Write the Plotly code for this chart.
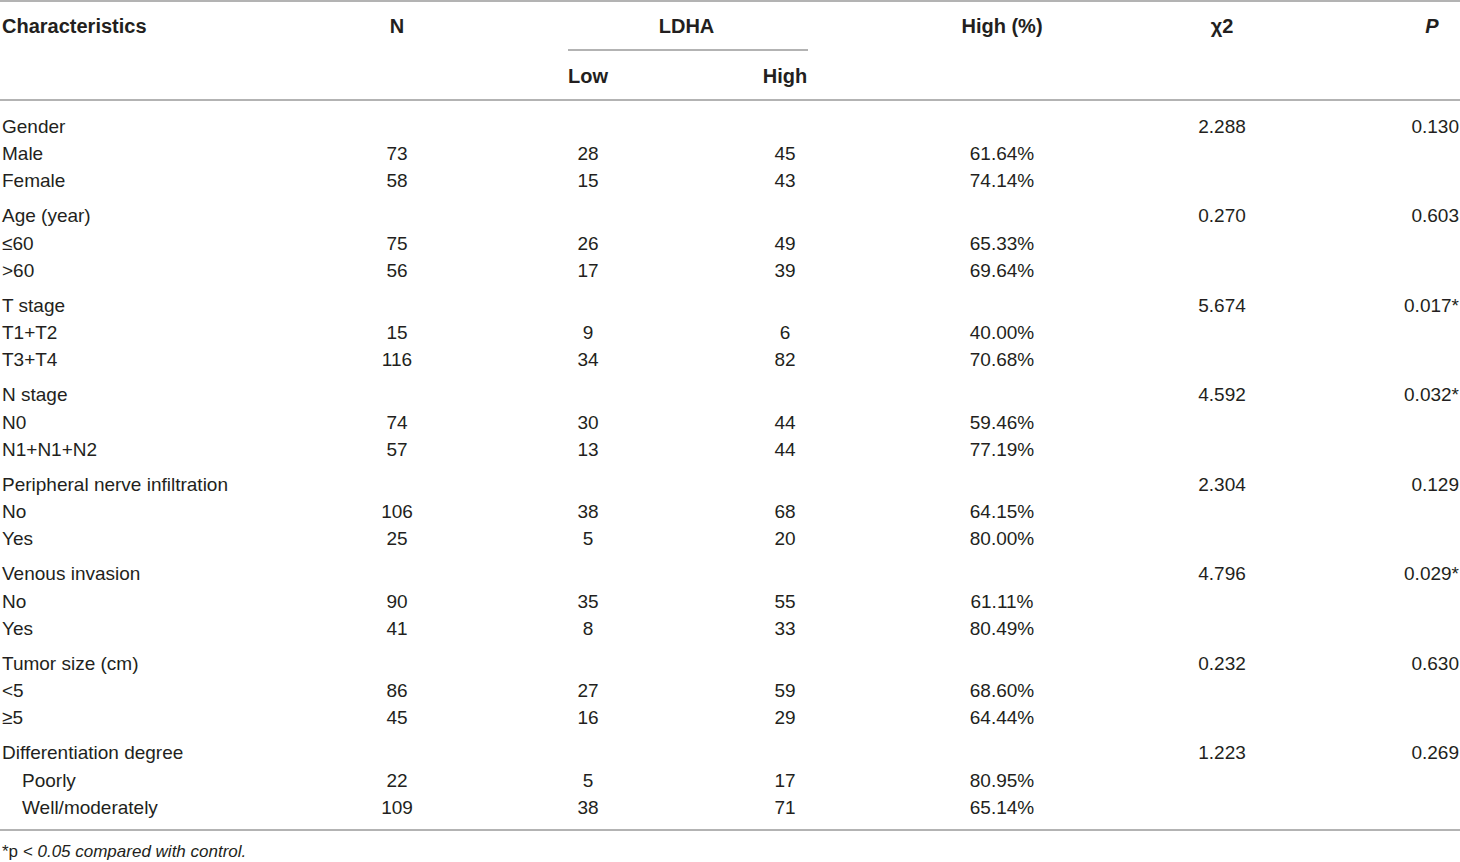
import plotly.graph_objects as go

# ---- table data ----
groups = ["Gender", "Age (year)", "T stage", "N stage",
          "Peripheral nerve infiltration", "Venous invasion",
          "Tumor size (cm)", "Differentiation degree"]
subgroups = [["Male", "Female"], ["≤60", ">60"], ["T1+T2", "T3+T4"],
             ["N0", "N1+N1+N2"], ["No", "Yes"], ["No", "Yes"],
             ["<5", "≥5"], ["Poorly", "Well/moderately"]]
n_vals = [73, 58, 75, 56, 15, 116, 74, 57, 106, 25, 90, 41, 86, 45, 22, 109]
low_vals = [28, 15, 26, 17, 9, 34, 30, 13, 38, 5, 35, 8, 27, 16, 5, 38]
high_vals = [45, 43, 49, 39, 6, 82, 44, 44, 68, 20, 55, 33, 59, 29, 17, 71]
high_pct = ["61.64%", "74.14%", "65.33%", "69.64%", "40.00%", "70.68%",
            "59.46%", "77.19%", "64.15%", "80.00%", "61.11%", "80.49%",
            "68.60%", "64.44%", "80.95%", "65.14%"]
chi2_vals = ["2.288", "0.270", "5.674", "4.592", "2.304", "4.796", "0.232", "1.223"]
p_vals = ["0.130", "0.603", "0.017*", "0.032*", "0.129", "0.029*", "0.630", "0.269"]
indented = ["Differentiation degree"]
footnote = "*p <i>&lt; 0.05 compared with control.</i>"

W, H = 1460, 862
TXT = "#231f20"
LINE = "#9a9a9a"
FONT = "Liberation Sans, Arial, sans-serif"
FS = 19

# ---- row layout ----
first_row, group_step, row_step = 128, 89.5, 27.3
group_y = [first_row + g * group_step for g in range(len(groups))]
sub_y, sub_lbl, sub_x = [], [], []
for g, subs in enumerate(subgroups):
    for i, s in enumerate(subs):
        sub_y.append(group_y[g] + row_step * (i + 1))
        sub_lbl.append(s)
        sub_x.append(22 if groups[g] in indented else 2)

col_n, col_low, col_high, col_pct, col_chi, col_p = 397, 588, 785, 1002, 1222, 1459

fig = go.Figure()


def add_text(xs, ys, texts, pos, size=FS, bold=False):
    fig.add_trace(go.Scatter(
        x=xs, y=ys, text=[f"<b>{t}</b>" if bold else str(t) for t in texts],
        mode="text", textposition=pos, hoverinfo="skip", showlegend=False,
        cliponaxis=False,
        textfont=dict(family=FONT, size=size, color=TXT)))


# header
add_text([2], [28], ["Characteristics"], "middle right", 20, True)
add_text([col_n, (col_low + col_high) / 2, col_pct, col_chi, 1432], [28] * 5,
         ["N", "LDHA", "High (%)", "χ2", "<i>P</i>"], "middle center", 20, True)
add_text([col_low, col_high], [78, 78], ["Low", "High"], "middle center", 20, True)

# body
add_text([2] * len(groups), group_y, groups, "middle right")
add_text(sub_x, sub_y, sub_lbl, "middle right")
add_text([col_n] * len(sub_y), sub_y, n_vals, "middle center")
add_text([col_low] * len(sub_y), sub_y, low_vals, "middle center")
add_text([col_high] * len(sub_y), sub_y, high_vals, "middle center")
add_text([col_pct] * len(sub_y), sub_y, high_pct, "middle center")
add_text([col_chi] * len(group_y), group_y, chi2_vals, "middle center")
add_text([col_p] * len(group_y), group_y, p_vals, "middle left")

# footnote
add_text([2], [853], [footnote], "middle right", 17)

# rules
for x0, x1, y in [(0, W, 1), (568, 808, 50), (0, W, 100), (0, W, 830)]:
    fig.add_shape(type="line", xref="x", yref="y", x0=x0, x1=x1, y0=y, y1=y,
                  line=dict(color=LINE, width=1.5))

fig.update_layout(
    width=W, height=H,
    margin=dict(l=0, r=0, t=0, b=0),
    paper_bgcolor="white", plot_bgcolor="white",
    xaxis=dict(range=[0, W], visible=False, fixedrange=True),
    yaxis=dict(range=[H, 0], visible=False, fixedrange=True),
)

fig.write_html("out.html", config={"displayModeBar": False},
               post_script="document.body.style.margin='0';")
